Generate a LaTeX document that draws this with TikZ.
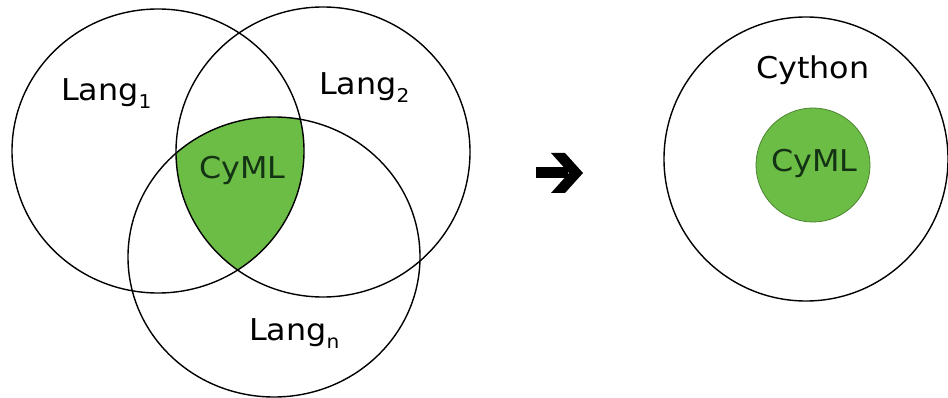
\documentclass[tikz,border=0pt]{standalone}
\usepackage{fontspec}
\setmainfont[FakeStretch=1.06]{DejaVu Sans}
\definecolor{vgreen}{RGB}{108,189,69}
\definecolor{vtext}{RGB}{20,50,20}
\newcommand{\mysub}[1]{\raisebox{-8pt}{\fontsize{19}{19}\selectfont #1}}
\begin{document}
\begin{tikzpicture}[x=1pt,y=-1pt,
  ring/.style={draw=black,line width=1.4pt},
  lbl/.style={font=\fontsize{30}{34}\selectfont,inner sep=0pt,text=black,anchor=base west},
  glbl/.style={font=\fontsize{30}{34}\selectfont,inner sep=0pt,text=vtext,anchor=base west}]
\useasboundingbox (0,0) rectangle (948,398);
\fill[white] (0,0) rectangle (948,398);
% Venn green region
\begin{scope}
  \clip (158,151) ellipse [x radius=146, y radius=142];
  \clip (323,152) ellipse [x radius=147, y radius=145];
  \fill[vgreen] (274,257) ellipse [x radius=146, y radius=140];
\end{scope}
\draw[ring] (158,151) ellipse [x radius=146, y radius=142];
\draw[ring] (323,152) ellipse [x radius=147, y radius=145];
\draw[ring] (274,257) ellipse [x radius=146, y radius=140];
\node[lbl] (l1) at (61,101) {Lang\mysub{1}};
\node[lbl] (l2) at (319,95) {Lang\mysub{2}};
\node[lbl] (ln) at (249,340) {Lang\mysub{n}};
\node[glbl] (cyml) at (199,179) {CyML};
% arrow
\fill[black] (536,167.5) rectangle (568,178.5);
\fill[black] (551,153) -- (565,153) -- (583,173) -- (565,193) -- (551,193) -- (569,173) -- cycle;
% right side
\draw[ring] (806,159) circle [radius=142];
\fill[vgreen, draw=vgreen!70!black, line width=0.8pt] (813,165) circle [radius=57];
\node[lbl] (cy) at (756,79) {Cython};
\node[glbl] (cyml2) at (771,172) {CyML};
\end{tikzpicture}
\end{document}
